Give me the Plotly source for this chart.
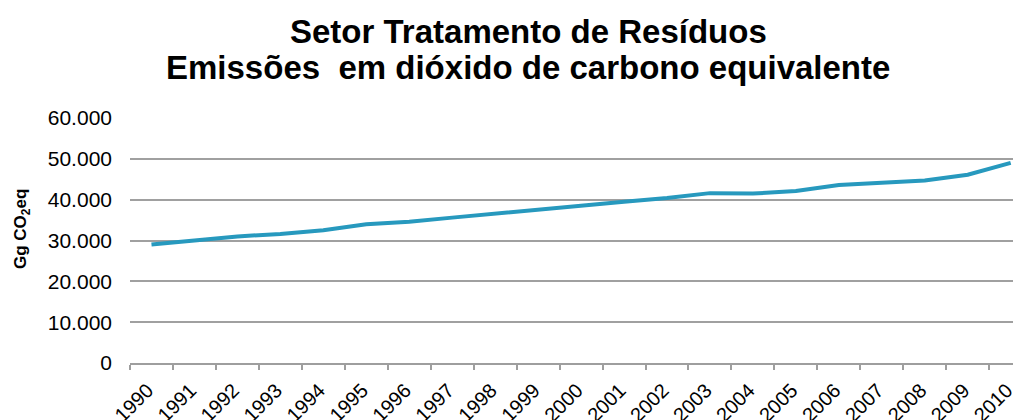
import plotly.graph_objects as go

years = [str(y) for y in range(1990, 2011)]
emissions = [29000, 30000, 31000, 31600, 32500, 34000, 34600, 35600, 36600, 37700,
             38600, 39500, 40400, 41600, 41500, 42100, 43600, 44100, 44700, 46100, 49000]

title_lines = ["Setor Tratamento de Resíduos", "Emissões \u00a0em dióxido de carbono equivalente"]
y_title = "Gg CO<sub>2</sub>eq"
y_ticks = [0, 10000, 20000, 30000, 40000, 50000, 60000]

FONT = "Liberation Sans, Arial, sans-serif"
W, H = 1021, 420
OFF = 8  # page body offset
L, T, R, B = 122, 109, 8, 65
PW, PH = W - L - R, H - T - B


def px_x(X):
    return (X - OFF - L) / PW


def px_y(Y):
    return (H - B - (Y - OFF)) / PH


fig = go.Figure()
fig.add_trace(go.Scatter(
    x=years, y=emissions, mode="lines",
    line=dict(color="#2799BE", width=4),
    hoverinfo="x+y",
))

annotations = []
for yc, line in zip([30, 67], title_lines):
    annotations.append(dict(
        text=line, xref="paper", yref="paper",
        x=px_x(528), xanchor="center",
        y=px_y(yc + 1), yanchor="middle",
        showarrow=False,
        font=dict(size=33, family=FONT, color="#000000", weight="bold"),
    ))
annotations.append(dict(
    text=y_title, xref="paper", yref="paper",
    x=px_x(22), xanchor="center",
    y=px_y(229), yanchor="middle",
    textangle=-90, showarrow=False,
    font=dict(size=17, family=FONT, color="#000000", weight="bold"),
))

fig.update_layout(
    width=W, height=H,
    paper_bgcolor="white", plot_bgcolor="white",
    margin=dict(l=L, r=R, t=T, b=B, autoexpand=False),
    separators=",.",
    showlegend=False,
    font=dict(family=FONT, color="#000000"),
    annotations=annotations,
    xaxis=dict(
        type="category",
        range=[-0.5, 20.24],
        automargin=False,
        tickson="boundaries",
        ticks="outside", ticklen=5, tickcolor="#9E9E9E", tickwidth=1.5,
        showline=True, linecolor="#9E9E9E", linewidth=1.5,
        showgrid=False,
        tickangle=-45,
        ticklabelstandoff=6,
        ticklabelshift=-4,
        tickfont=dict(size=20, color="#000000"),
    ),
    yaxis=dict(
        range=[0, 60000 * PH / 245],
        automargin=False,
        tickvals=y_ticks,
        tickformat=",d",
        showgrid=True, gridcolor="#A0A0A0", gridwidth=1.5,
        zeroline=False,
        showline=False,
        ticks="",
        ticklabelstandoff=17,
        tickfont=dict(size=21, color="#000000"),
    ),
)

fig.write_html("out.html")
